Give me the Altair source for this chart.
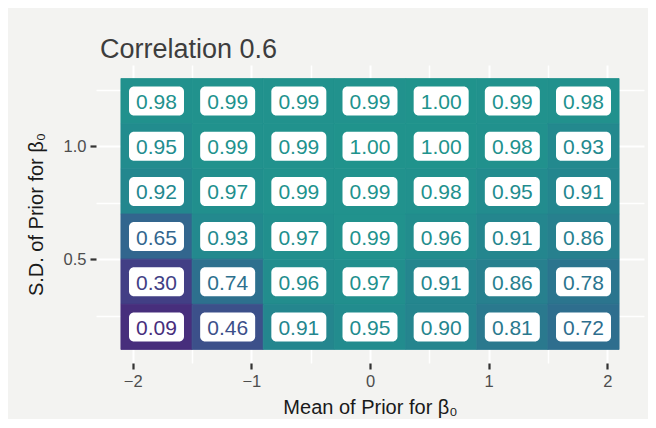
import altair as alt
import pandas as pd

# Data
x_means = [-1.8, -1.2, -0.6, 0.0, 0.6, 1.2, 1.8]
y_sds = [1.2, 1.0, 0.8, 0.6, 0.4, 0.2]
corr_rows = [
    [0.98, 0.99, 0.99, 0.99, 1.00, 0.99, 0.98],
    [0.95, 0.99, 0.99, 1.00, 1.00, 0.98, 0.93],
    [0.92, 0.97, 0.99, 0.99, 0.98, 0.95, 0.91],
    [0.65, 0.93, 0.97, 0.99, 0.96, 0.91, 0.86],
    [0.30, 0.74, 0.96, 0.97, 0.91, 0.86, 0.78],
    [0.09, 0.46, 0.91, 0.95, 0.90, 0.81, 0.72],
]
x_tick_values = [-2, -1.5, -1, -0.5, 0, 0.5, 1, 1.5, 2]
y_tick_values = [0.25, 0.5, 0.75, 1.0, 1.25]
title_text = "Correlation 0.6"
x_title = "Mean of Prior for β₀"
y_title = "S.D. of Prior for β₀"

records = []
for yi, sd in enumerate(y_sds):
    for xi, m in enumerate(x_means):
        records.append({"mean": m, "sd": sd, "corr": corr_rows[yi][xi]})
df = pd.DataFrame(records)

BG = "#f3f3f1"
FONT = "Liberation Sans"
TILE_W = 0.6
TILE_H = 0.2

color_scale = alt.Scale(
    type="pow",
    exponent=1.5,
    scheme=alt.SchemeParams(name="viridis", extent=[0.13, 0.51]),
    domain=[0.09, 1.0],
)
xscale = alt.Scale(domain=[-2.31, 2.31], nice=False, zero=False)
yscale = alt.Scale(domain=[0.04, 1.36], nice=False, zero=False)

x_axis = alt.Axis(
    values=x_tick_values,
    labelExpr="datum.value % 1 === 0 ? replace(format(datum.value, 'd'), '-', '−') : ''",
    labelOverlap=False,
    labelFlush=False,
    labelFont=FONT,
    labelFontSize=16.5,
    labelColor="#4d4d4d",
    labelPadding=4,
    tickColor="#333333",
    tickWidth=2.2,
    tickSize=6,
    tickOpacity={"condition": {"test": "datum.value % 1 !== 0", "value": 0}, "value": 1},
    grid=True,
    gridColor="white",
    gridWidth={"condition": {"test": "datum.value % 1 !== 0", "value": 1.5}, "value": 2},
    domain=False,
    title=x_title,
    titleFont=FONT,
    titleFontSize=20,
    titleFontWeight="normal",
    titleColor="#1a1a1a",
    titlePadding=8,
)
y_axis = alt.Axis(
    values=y_tick_values,
    labelExpr="(datum.value * 4) % 2 === 0 ? format(datum.value, '.1f') : ''",
    labelOverlap=False,
    labelFlush=False,
    labelFont=FONT,
    labelFontSize=16.5,
    labelColor="#4d4d4d",
    labelPadding=4,
    tickColor="#333333",
    tickWidth=2.2,
    tickSize=6,
    tickOpacity={"condition": {"test": "(datum.value * 4) % 2 !== 0", "value": 0}, "value": 1},
    grid=True,
    gridColor="white",
    gridWidth={"condition": {"test": "(datum.value * 4) % 2 !== 0", "value": 1.5}, "value": 2},
    domain=False,
    title=y_title,
    titleFont=FONT,
    titleFontSize=20,
    titleFontWeight="normal",
    titleColor="#1a1a1a",
    titlePadding=17,
)

base = alt.Chart(df)

tiles = base.transform_calculate(
    x0=f"datum.mean - {TILE_W / 2}",
    x1=f"datum.mean + {TILE_W / 2}",
    y0=f"datum.sd - {TILE_H / 2}",
    y1=f"datum.sd + {TILE_H / 2}",
).mark_rect(strokeWidth=0.8).encode(
    x=alt.X("x0:Q", scale=xscale, axis=x_axis),
    x2="x1:Q",
    y=alt.Y("y0:Q", scale=yscale, axis=y_axis),
    y2="y1:Q",
    color=alt.Color("corr:Q", scale=color_scale, legend=None),
    stroke=alt.Stroke("corr:Q", scale=color_scale, legend=None),
)

boxes = base.mark_rect(width=55, height=29, cornerRadius=5, color="white").encode(
    x=alt.X("mean:Q", scale=xscale),
    y=alt.Y("sd:Q", scale=yscale),
)

labels = base.mark_text(font=FONT, fontSize=21, baseline="middle", align="center", dy=2).encode(
    x=alt.X("mean:Q", scale=xscale),
    y=alt.Y("sd:Q", scale=yscale),
    text=alt.Text("corr:Q", format=".2f"),
    color=alt.Color("corr:Q", scale=color_scale, legend=None),
)

chart = alt.layer(tiles, boxes, labels).properties(
    width=548,
    height=298,
    autosize=alt.AutoSizeParams(type="none"),
    padding={"left": 88, "top": 57, "right": 4, "bottom": 56},
    background=BG,
    title=alt.TitleParams(
        title_text,
        anchor="start",
        frame="group",
        font=FONT,
        fontSize=27,
        fontWeight="normal",
        color="#3d3d3d",
        dx=4,
        offset=1,
    ),
).configure_view(stroke=None, fill=None)

chart.save("out.html", embed_options={"renderer": "svg", "actions": False})
